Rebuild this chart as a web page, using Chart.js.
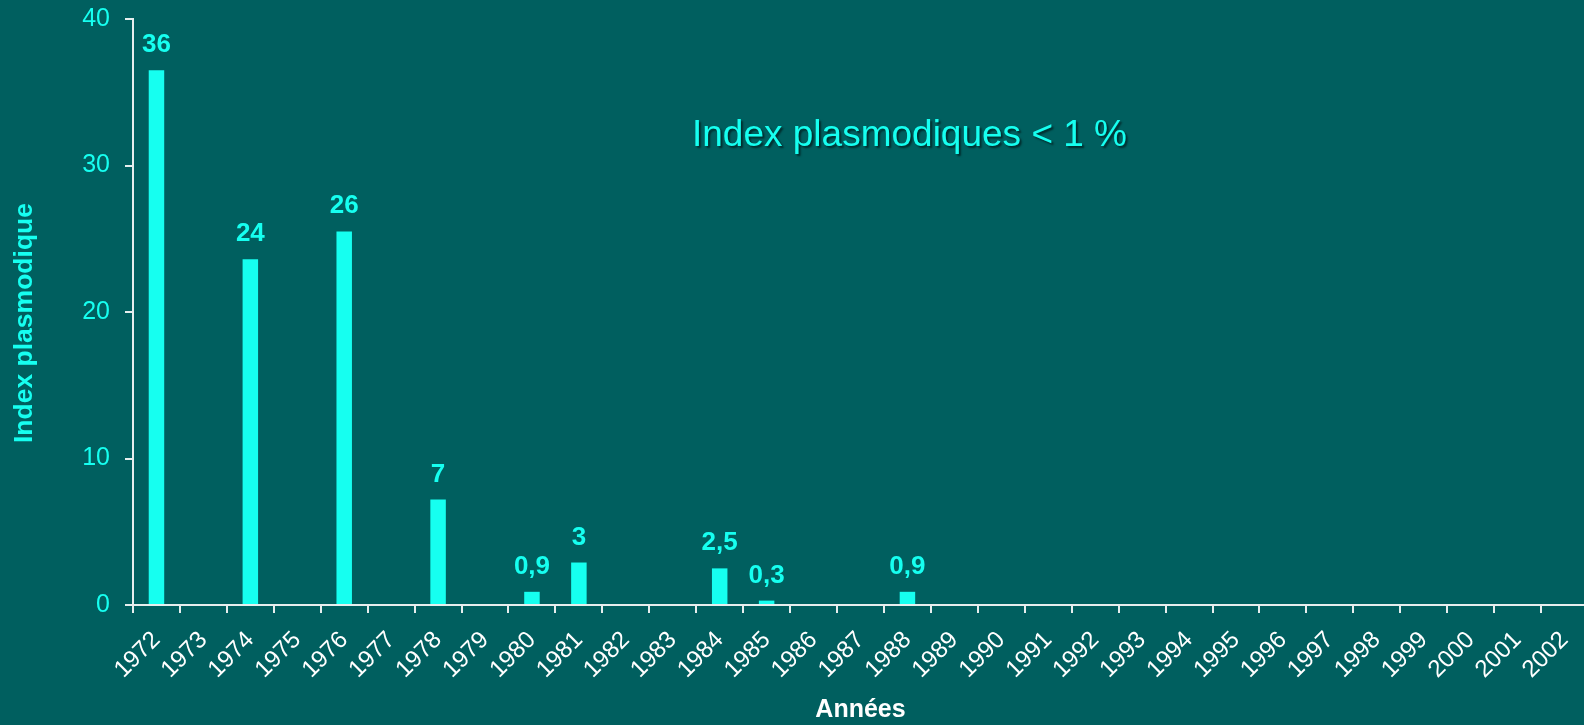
<!DOCTYPE html>
<html>
<head>
<meta charset="utf-8">
<script src="https://cdn.jsdelivr.net/npm/chart.js@4.4.1/dist/chart.umd.min.js"></script>
<style>
  html, body { margin: 0; padding: 0; background: #005f5f; overflow: hidden; }
  #wrap { width: 1600px; height: 725px; position: relative; }
</style>
</head>
<body>
<div id="wrap"><canvas id="c" width="1600" height="725"></canvas></div>
<script>
const years = ['1972','1973','1974','1975','1976','1977','1978','1979','1980','1981',
  '1982','1983','1984','1985','1986','1987','1988','1989','1990','1991','1992','1993',
  '1994','1995','1996','1997','1998','1999','2000','2001','2002'];
const indexValues = [36.5, null, 23.6, null, 25.5, null, 7.2, null, 0.9, 2.9,
  null, null, 2.5, 0.3, null, null, 0.9, null, null, null, null, null,
  null, null, null, null, null, null, null, null, null];
const valueLabels = ['36', '', '24', '', '26', '', '7', '', '0,9', '3',
  '', '', '2,5', '0,3', '', '', '0,9', '', '', '', '', '',
  '', '', '', '', '', '', '', '', ''];
const yTicks = [0, 10, 20, 30, 40];
const annotationText = 'Index plasmodiques < 1 %';
const yTitle = 'Index plasmodique';
const xTitle = 'Années';

const CYAN = '#16fff0';
const LINE = '#e6eeee';
const FONT = '"Liberation Sans", Arial, sans-serif';

const valueLabelPlugin = {
  id: 'valueLabels',
  afterDatasetsDraw(chart) {
    const ctx = chart.ctx;
    const meta = chart.getDatasetMeta(0);
    ctx.save();
    ctx.font = 'bold 26px ' + FONT;
    ctx.fillStyle = CYAN;
    ctx.textAlign = 'center';
    ctx.textBaseline = 'alphabetic';
    meta.data.forEach((el, i) => {
      const t = valueLabels[i];
      if (!t || indexValues[i] == null) return;
      ctx.fillText(t, el.x, el.y - 18);
    });
    ctx.restore();
  }
};

const textPlugin = {
  id: 'texts',
  afterDraw(chart) {
    const ctx = chart.ctx;
    // y-axis title
    ctx.save();
    ctx.translate(25, 323);
    ctx.rotate(-Math.PI / 2);
    ctx.font = 'bold 26.5px ' + FONT;
    ctx.fillStyle = CYAN;
    ctx.textAlign = 'center';
    ctx.textBaseline = 'middle';
    ctx.fillText(yTitle, 0, 0);
    ctx.restore();
    // annotation
    ctx.save();
    ctx.font = '37px ' + FONT;
    ctx.textAlign = 'left';
    ctx.textBaseline = 'alphabetic';
    ctx.shadowColor = 'rgba(0,0,0,0.55)';
    ctx.shadowOffsetX = 2;
    ctx.shadowOffsetY = 2;
    ctx.shadowBlur = 2;
    ctx.fillStyle = CYAN;
    ctx.fillText(annotationText, 692, 146);
    ctx.restore();
  }
};

new Chart(document.getElementById('c'), {
  type: 'bar',
  data: {
    labels: years,
    datasets: [{
      data: indexValues,
      backgroundColor: CYAN,
      borderWidth: 0,
      categoryPercentage: 1,
      barPercentage: 0.33
    }]
  },
  options: {
    responsive: false,
    devicePixelRatio: 1,
    animation: false,
    layout: { padding: { top: 19, right: 12, left: 0, bottom: 0 } },
    plugins: { legend: { display: false }, tooltip: { enabled: false } },
    scales: {
      x: {
        offset: true,
        afterFit(scale) { scale.height = 120; },
        grid: {
          offset: true,
          drawOnChartArea: false,
          drawTicks: true,
          tickLength: 8,
          color: LINE,
          lineWidth: 2
        },
        border: { display: true, color: LINE, width: 2 },
        ticks: {
          autoSkip: false,
          minRotation: 45,
          maxRotation: 45,
          color: '#ffffff',
          padding: 13,
          font: { family: FONT, size: 24 }
        },
        title: {
          display: true,
          text: xTitle,
          color: '#ffffff',
          padding: { top: 0, bottom: 0 },
          font: { family: FONT, size: 25, weight: 'bold' }
        }
      },
      y: {
        min: 0,
        max: 40,
        afterFit(scale) {
          scale.width = 133;
          scale.paddingTop = 0;
          scale.paddingBottom = 0;
        },
        afterBuildTicks(scale) { scale.ticks = yTicks.map(v => ({ value: v })); },
        grid: {
          drawOnChartArea: false,
          drawTicks: true,
          tickLength: 8,
          color: LINE,
          lineWidth: 2
        },
        border: { display: true, color: LINE, width: 2 },
        ticks: {
          color: CYAN,
          padding: 15,
          font: { family: FONT, size: 25 }
        },
        title: { display: false }
      }
    }
  },
  plugins: [valueLabelPlugin, textPlugin]
});
</script>
</body>
</html>
